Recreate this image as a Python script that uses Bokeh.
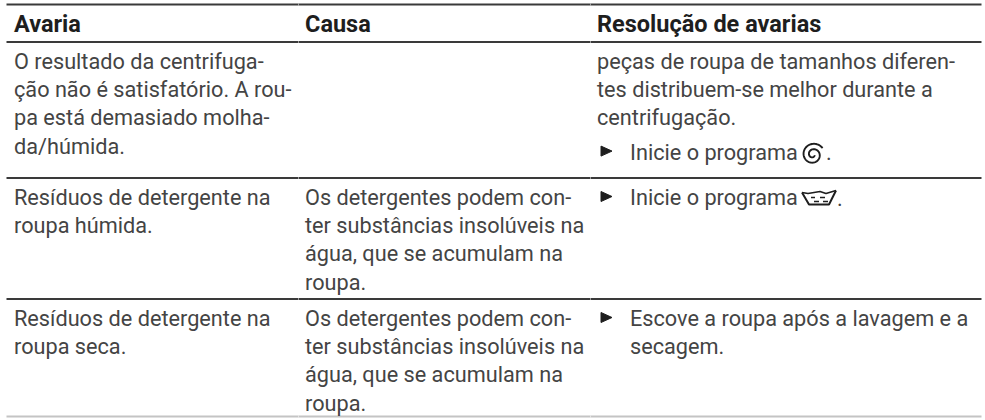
import numpy as np
from bokeh.plotting import figure
from bokeh.embed import file_html
from bokeh.resources import INLINE
from bokeh.models import Range1d
from bokeh.core.properties import value

headers = ["Avaria", "Causa", "Resolução de avarias"]
col_left = [13.5, 304.5, 596.5]
bullet_indent = 33

col1 = [
    ["O resultado da centrifuga-", "ção não é satisfatório. A rou-", "pa está demasiado molha-", "da/húmida."],
    ["Resíduos de detergente na", "roupa húmida."],
    ["Resíduos de detergente na", "roupa seca."],
]
col2 = [
    [],
    ["Os detergentes podem con-", "ter substâncias insolúveis na", "água, que se acumulam na", "roupa."],
    ["Os detergentes podem con-", "ter substâncias insolúveis na", "água, que se acumulam na", "roupa."],
]
col3_plain = [
    ["peças de roupa de tamanhos diferen-", "tes distribuem-se melhor durante a", "centrifugação."],
    [],
    [],
]
bullets = [
    [(0, "Inicie o programa")],
    [(0, "Inicie o programa")],
    [(0, "Escove a roupa após a lavagem e a"), (1, "secagem.")],
]
row_tops = [41.5, 177.5, 298.5]
rules_y = [4, 41.5, 177.5, 298.5, 416]
gap_x = [298, 590]

W, H = 985, 420
LINE = 28.2
FONT = "Roboto"
SIZE = "21.7px"
INK = "#444444"
DARK = "#1e1e1e"
TEXT_SHIFT = -8

p = figure(width=W, height=H, x_range=Range1d(0, W), y_range=Range1d(H, 0),
           toolbar_location=None, output_backend="svg", min_border=0,
           outline_line_color=None, background_fill_color="white")
p.axis.visible = False
p.grid.visible = False

colors = ["#3a3a3a", "#3a3a3a", "#3a3a3a", "#3a3a3a", "#c4c4c4"]
widths = [2, 2, 2, 2, 2]
p.segment(x0=[6] * 5, x1=[981] * 5, y0=rules_y, y1=rules_y, line_color=colors, line_width=widths)
for gx in gap_x:
    p.segment(x0=[gx] * 5, x1=[gx] * 5, y0=[y - 1 for y in rules_y], y1=[y + 1 for y in rules_y],
              line_color="white", line_width=0.7, line_alpha=0.7)

p.text(x=col_left, y=[32 + TEXT_SHIFT - 1] * 3, text=headers, text_font=value(FONT), text_font_style="bold",
       text_font_size="23.5px", text_color=DARK, text_baseline="alphabetic")

def put(xs, ys, ts):
    p.text(x=xs, y=[v + TEXT_SHIFT for v in ys], text=ts, text_font=value(FONT), text_font_size=SIZE,
           text_color=INK, text_baseline="alphabetic")

def spiral_icon(cx, cy, r):
    t = np.linspace(0, 1.85 * 2 * np.pi, 120)
    rad = r * (1 - t / t[-1]) + 1.6
    a = -0.6 - t
    p.line(cx + rad * np.cos(a), cy + rad * np.sin(a), line_color=DARK, line_width=1.9)

def tub_icon(x, y):
    # x, y: upper-left corner of the icon
    p.line([x, x + 7, x + 27, x + 34], [y + 2, y + 14, y + 14, y], line_color=DARK, line_width=2)
    p.line([x, x + 6, x + 12, x + 18, x + 24, x + 34], [y + 2, y + 3, y + 2, y + 1, y + 3, y],
           line_color=DARK, line_width=1.6)
    p.multi_line([[x + 9, x + 13], [x + 18, x + 23], [x + 12, x + 17], [x + 21, x + 26]],
                 [[y + 7, y + 7], [y + 7, y + 7], [y + 11, y + 11], [y + 11, y + 11]],
                 line_color=DARK, line_width=1.4)

icons = [("spiral", 216, 24.5), ("tub", 205, 36)]

for r, top in enumerate(row_tops):
    base = top + 27.5
    for lines, cx in ((col1[r], col_left[0]), (col2[r], col_left[1]), (col3_plain[r], col_left[2])):
        if lines:
            put([cx] * len(lines), [base + i * LINE for i in range(len(lines))], list(lines))
    offset = len(col3_plain[r])
    for ln, txt in bullets[r]:
        y = base + (offset + ln) * LINE + (6 if offset else 0)
        put([col_left[2] + bullet_indent], [y], [txt])
        if ln == 0:
            p.patch([col_left[2] + 4, col_left[2] + 4, col_left[2] + 15],
                    [y - 14, y - 4, y - 9], color=DARK)
        if r < len(icons):
            kind, dx, dot_dx = icons[r]
            if kind == "spiral":
                spiral_icon(col_left[2] + dx, y - 5.5, 10)
                put([col_left[2] + dx + 13], [y], ["."])
            else:
                tub_icon(col_left[2] + dx, y - 15)
                put([col_left[2] + dx + 35], [y], ["."])

open("out.html", "w").write(file_html(p, INLINE))
